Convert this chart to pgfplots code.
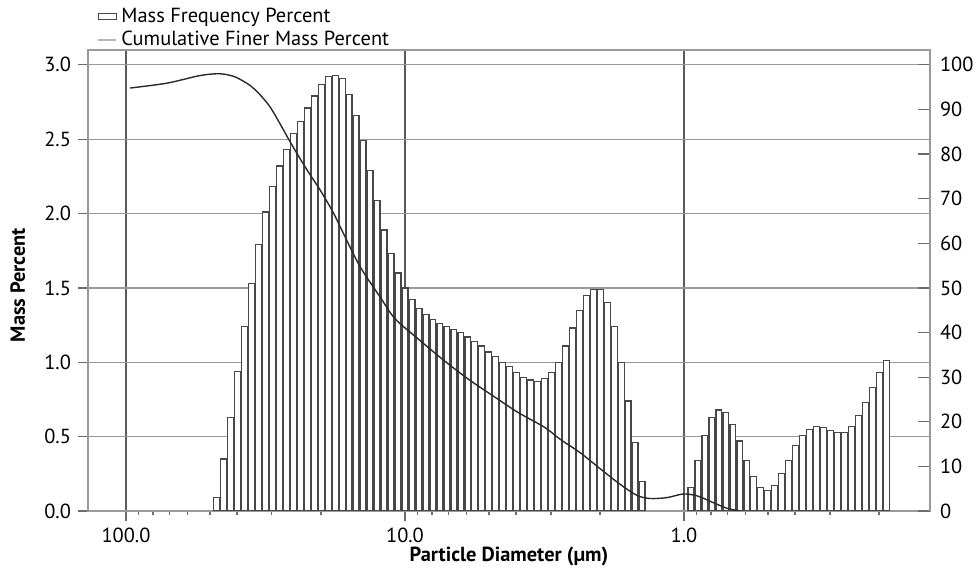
\documentclass[border=0pt]{standalone}
\usepackage{fontspec}
\setmainfont{PT Sans}
\usepackage{pgfplots}
\pgfplotsset{compat=1.18}

\definecolor{gridc}{HTML}{9A9A9A}
\definecolor{vgrid}{HTML}{5A5A5A}
\definecolor{barc}{HTML}{474747}
\definecolor{curvec}{HTML}{2A2A2A}
\definecolor{legline}{HTML}{B8B8B8}

\newcommand{\tfont}{\fontsize{10.2}{12}\selectfont}

\begin{document}
\begin{tikzpicture}
\begin{axis}[
  name=main,
  scale only axis, width=421pt, height=230.5pt,
  xmin=-2.1362, xmax=0.8817, ymin=0, ymax=3.1,
  axis line style={gridc, line width=0.6pt},
  tick pos=left, tick align=outside,
  major tick length=5pt, minor tick length=2pt,
  tick style={gridc!70!black, line width=0.6pt},
  xtick={-2,-1,0}, xticklabels={100.0,10.0,1.0},
  minor xtick={-1.9542,-1.9031,-1.8451,-1.7782,-1.6990,-1.6021,-1.4771,-1.3010,-0.9542,-0.9031,-0.8451,-0.7782,-0.6990,-0.6021,-0.4771,-0.3010,0.0458,0.0969,0.1549,0.2218,0.3010,0.3979,0.5229,0.6990},
  ytick={0,0.5,1,1.5,2,2.5,3},
  yticklabels={0.0,0.5,1.0,1.5,2.0,2.5,3.0},
  /pgf/number format/assume math mode=true,
  xmajorgrids, ymajorgrids,
  x grid style={vgrid, line width=0.75pt},
  y grid style={gridc, line width=0.6pt},
  tick label style={font=\tfont},
  xlabel={Particle Diameter (µm)},
  ylabel={Mass Percent},
  label style={font=\bfseries\tfont},
  xlabel style={at={(axis description cs:0.5,-0.11)}, anchor=base},
  ylabel style={at={(axis description cs:-0.0833,0.49)}, anchor=center},
  legend style={at={(axis description cs:0.0107,1.0)}, anchor=south west,
    yshift=-1.5pt,
    draw=none, fill=none, font=\tfont, inner sep=0pt, row sep=-1.2pt,
    cells={anchor=west}},
]
\addplot[ybar, bar width=0.021, fill=white, draw=barc, line width=0.65pt,
  legend image code/.code={\draw[barc, fill=white, line width=0.5pt] (0pt,-1.4pt) rectangle (9pt,1.4pt);}]
coordinates {
(-1.675,0.09) (-1.650,0.35) (-1.625,0.63) (-1.600,0.94) (-1.575,1.24)
(-1.550,1.53) (-1.525,1.79) (-1.500,2.01) (-1.475,2.18) (-1.450,2.32)
(-1.425,2.43) (-1.400,2.54) (-1.375,2.62) (-1.350,2.71) (-1.325,2.79)
(-1.300,2.87) (-1.275,2.92) (-1.250,2.93) (-1.225,2.91) (-1.200,2.80)
(-1.175,2.66) (-1.150,2.49) (-1.125,2.29) (-1.100,2.09) (-1.075,1.89)
(-1.050,1.73) (-1.025,1.60) (-1.000,1.50) (-0.975,1.42) (-0.950,1.36)
(-0.925,1.32) (-0.900,1.29) (-0.875,1.26) (-0.850,1.24) (-0.825,1.22)
(-0.800,1.20) (-0.775,1.17) (-0.750,1.14) (-0.725,1.11) (-0.700,1.07)
(-0.675,1.04) (-0.650,1.00) (-0.625,0.97) (-0.600,0.93) (-0.575,0.90)
(-0.550,0.88) (-0.525,0.87) (-0.500,0.89) (-0.475,0.93) (-0.450,1.00)
(-0.425,1.11) (-0.400,1.23) (-0.375,1.35) (-0.350,1.45) (-0.325,1.49)
(-0.300,1.49) (-0.275,1.40) (-0.250,1.24) (-0.225,1.00) (-0.200,0.74)
(-0.175,0.46) (-0.150,0.20)
(0.025,0.16) (0.050,0.34) (0.075,0.51) (0.100,0.63) (0.125,0.68)
(0.150,0.66) (0.175,0.58) (0.200,0.47) (0.225,0.34) (0.250,0.23)
(0.275,0.16) (0.300,0.14) (0.325,0.17) (0.350,0.25) (0.375,0.34)
(0.400,0.44) (0.425,0.51) (0.450,0.55) (0.475,0.57) (0.500,0.56)
(0.525,0.54) (0.550,0.53) (0.575,0.53) (0.600,0.57) (0.625,0.64)
(0.650,0.73) (0.675,0.83) (0.700,0.93) (0.725,1.01)
};
\addlegendentry{Mass Frequency Percent}
\addlegendimage{legend image code/.code={\draw[legline, line width=1pt] (0pt,0pt) -- (9pt,0pt);}}
\addlegendentry{Cumulative Finer Mass Percent}
\end{axis}

\begin{axis}[
  scale only axis, width=421pt, height=230.5pt,
  xmin=-2.1362, xmax=0.8817, ymin=0, ymax=103.333,
  axis x line=none, axis y line*=right,
  axis line style={gridc, line width=0.6pt},
  ytick={0,10,20,30,40,50,60,70,80,90,100},
  tick align=inside, major tick length=6pt,
  tick style={gridc!70!black, line width=0.6pt},
  /pgf/number format/assume math mode=true,
  tick label style={font=\tfont},
  yticklabel style={xshift=1.5pt},
]
\addplot[curvec, line width=0.7pt, smooth] coordinates {
(-1.9857,94.8) (-1.8530,95.9) (-1.7348,97.6) (-1.6631,98.0) (-1.6093,97.3)
(-1.5556,95.4) (-1.5197,93.3) (-1.4839,90.6) (-1.4480,86.8) (-1.4122,82.8)
(-1.3763,79.0) (-1.3405,75.4) (-1.3047,72.0) (-1.2581,67.0) (-1.2222,62.4)
(-1.1613,54.8) (-1.0896,48.0) (-1.0358,43.1)
(-0.9534,38.6) (-0.8674,34.1) (-0.7742,29.6) (-0.6774,25.5) (-0.5950,22.1)
(-0.4982,18.7) (-0.4444,16.1) (-0.3728,13.1) (-0.3011,9.5) (-0.2294,6.0)
(-0.1685,3.5) (-0.1219,2.8) (-0.0609,3.0) (-0.0036,3.8) (0.0466,3.4)
(0.1039,1.9) (0.1541,0.6) (0.2007,0.0)
};
\end{axis}
\pgfresetboundingbox
\path[use as bounding box] ([shift={(-44pt,-29.5pt)}]main.south west) rectangle ([shift={(23.5pt,25pt)}]main.north east);
\end{tikzpicture}
\end{document}
